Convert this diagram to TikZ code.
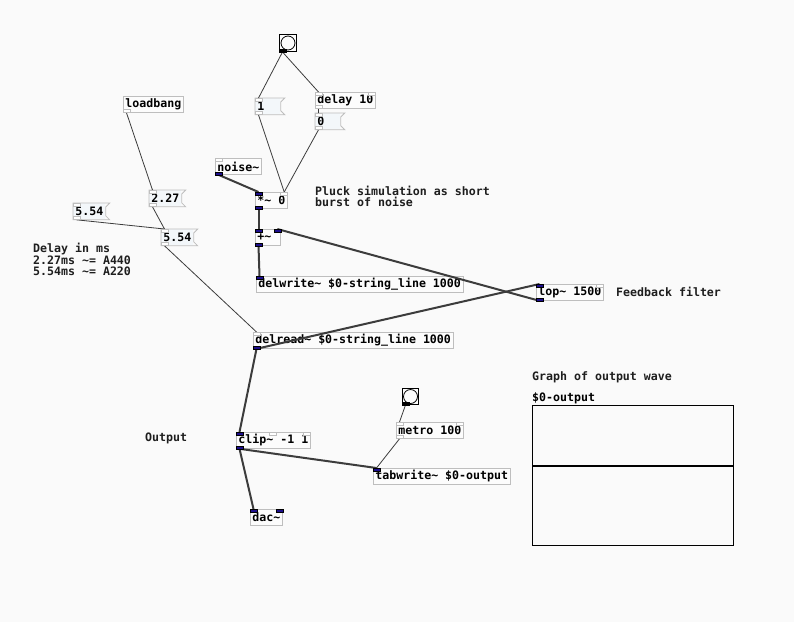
\documentclass[tikz,border=0pt]{standalone}
\usepackage{fontspec}
\setmonofont{DejaVu Sans Mono}
\usepackage{tikz}
\usetikzlibrary{positioning, calc}
\definecolor{pdbg}{RGB}{250,250,250}
\definecolor{boxedge}{RGB}{190,190,190}
\definecolor{msgfill}{RGB}{243,247,250}
\definecolor{objfill}{RGB}{252,252,252}
\definecolor{sigblue}{RGB}{28,14,140}
\definecolor{wire}{RGB}{60,60,60}
\definecolor{pdtext}{RGB}{30,30,30}

\newcommand{\pdfont}{\ttfamily\bfseries\fontsize{11.6}{11}\selectfont}
\newcommand{\pdtilde}{\textasciitilde}
% iolets: style, node
\newcommand{\pdin}[2]{\draw[#1] (#2.north west) rectangle ++(7,3);}
\newcommand{\pdinr}[2]{\draw[#1] (#2.north east) ++(-7,0) rectangle ++(7,3);}
\newcommand{\pdout}[2]{\draw[#1] (#2.south west) ++(0,-3) rectangle ++(7,3);}

\begin{document}
\begin{tikzpicture}[
    x=1pt, y=-1pt,
    obj/.style={rectangle, draw=boxedge, fill=objfill, line width=0.8pt, anchor=north west, minimum height=16pt, inner xsep=2pt, inner ysep=0pt, font=\pdfont, text=black},
    narrow/.style={text width=21pt, align=left},
    msg/.style={obj, draw=none, fill=msgfill},
    bang/.style={rectangle, draw=black, line width=1pt, fill=objfill, minimum size=17pt, inner sep=0pt, anchor=north west,
        path picture={\draw[black, line width=0.8pt] (path picture bounding box.center) circle (7pt);}},
    comment/.style={inner sep=0pt, font=\pdfont, text=pdtext, anchor=west, align=left},
    ctl/.style={draw=wire, line width=0.8pt},
    sig/.style={draw=wire, line width=2pt},
    ctlio/.style={draw=boxedge, fill=white, line width=0.8pt},
    sigio/.style={fill=sigblue},
    bangio/.style={fill=black}
]
\fill[pdbg] (0,0) rectangle (794,622);
\useasboundingbox (0,0) rectangle (794,622);

% pluck part
\node[bang] (bangA) at (279,34) {};
\node[msg, narrow] (one) at (255,98) {1};
\node[obj] (delay) at (315,92) {delay 10};
\node[msg, narrow] (zero) at (315,113) {0};
\node[obj] (noise) at (215,158) {noise\pdtilde};
\node[obj] (times) at (255,192) {*\pdtilde{} 0};
\node[obj, narrow] (plus) at (255,229) {+\pdtilde};
\node[obj] (delwrite) at (256,276) {delwrite\pdtilde{} \$0-string\_line 1000};
\node[obj] (lop) at (536,284) {lop\pdtilde{} 1500};
\node[obj] (delread) at (253,332) {delread\pdtilde{} \$0-string\_line 1000};

% delay time
\node[obj] (loadbang) at (123,96) {loadbang};
\node[msg] (twoseven) at (149,190) {2.27};
\node[msg] (fivel) at (73,203) {5.54};
\node[msg] (fiver) at (161,229) {5.54};

% output
\node[obj] (clip) at (236,432) {clip\pdtilde{} -1 1};
\node[bang, minimum size=16pt] (bangB) at (402,388) {};
\node[obj] (metro) at (396,422) {metro 100};
\node[obj] (tabwrite) at (373,468) {tabwrite\pdtilde{} \$0-output};
\node[obj] (dac) at (250,509) {dac\pdtilde};

% comments
\node[comment] (dlynote) at (33,259) {Delay in ms\\2.27ms \pdtilde= A440\\5.54ms \pdtilde= A220};
\node[comment] (plucknote) at (315,196.5) {Pluck simulation as short\\burst of noise};
\node[comment] (outnote) at (145,438) {Output};
\node[comment] (fbnote) at (616,292) {Feedback filter};
\node[comment] (graphnote) at (532,377) {Graph of output wave};
\node[comment, text=black] (arrname) at (532,398) {\$0-output};

% graph
\node[draw=black, line width=1pt, minimum width=201pt, minimum height=140pt, inner sep=0pt, anchor=north west] (graph) at (532,405) {};
\path (graph.north west) ++(0,61) coordinate (zline);
\draw[black, line width=2pt] (zline) -- (zline -| graph.east);

% message box outlines
\foreach \m in {one,zero,twoseven,fivel,fiver} {
    \draw[boxedge, line width=0.8pt] (\m.north west) -- ([xshift=4pt]\m.north east) -- ([yshift=-4pt]\m.north east)
        -- ([yshift=4pt]\m.south east) -- ([xshift=4pt]\m.south east) -- (\m.south west) -- cycle;
}

% control wires
\draw[ctl] ([xshift=3.5pt]bangA.south west) -- ([xshift=3.5pt]one.north west);
\draw[ctl] ([xshift=3.5pt]bangA.south west) -- ([xshift=3.5pt]delay.north west);
\draw[ctl] ([xshift=3.5pt]delay.south west) -- ([xshift=3.5pt]zero.north west);
\draw[ctl] ([xshift=3.5pt]one.south west) -- ([xshift=-3.5pt]times.north east);
\draw[ctl] ([xshift=3.5pt]zero.south west) -- ([xshift=-3.5pt]times.north east);
\draw[ctl] ([xshift=3.5pt]loadbang.south west) -- ([xshift=3.5pt]twoseven.north west);
\draw[ctl] ([xshift=3.5pt]twoseven.south west) -- ([xshift=3.5pt]fiver.north west);
\draw[ctl] ([xshift=3.5pt]fivel.south west) -- ([xshift=3.5pt]fiver.north west);
\draw[ctl] ([xshift=3.5pt]fiver.south west) -- ([xshift=3.5pt]delread.north west);
\draw[ctl] ([xshift=3.5pt]bangB.south west) -- ([xshift=3.5pt]metro.north west);
\draw[ctl] ([xshift=3.5pt]metro.south west) -- ([xshift=3.5pt]tabwrite.north west);

% signal wires
\draw[sig] ([xshift=3.5pt]noise.south west) -- ([xshift=3.5pt]times.north west);
\draw[sig] ([xshift=3.5pt]times.south west) -- ([xshift=3.5pt]plus.north west);
\draw[sig] ([xshift=3.5pt]plus.south west) -- ([xshift=3.5pt]delwrite.north west);
\draw[sig] ([xshift=3.5pt]lop.south west) -- ([xshift=-3.5pt]plus.north east);
\draw[sig] ([xshift=3.5pt]delread.south west) -- ([xshift=3.5pt]lop.north west);
\draw[sig] ([xshift=3.5pt]delread.south west) -- ([xshift=3.5pt]clip.north west);
\draw[sig] ([xshift=3.5pt]clip.south west) -- ([xshift=3.5pt]dac.north west);
\draw[sig] ([xshift=3.5pt]clip.south west) -- ([xshift=3.5pt]tabwrite.north west);

% iolets
\foreach \n in {one,zero,delay,noise,delread,twoseven,fivel,fiver,metro} {\pdin{ctlio}{\n}}
\foreach \n in {delay,times,lop,metro,clip} {\pdinr{ctlio}{\n}}
\draw[ctlio] ([xshift=-3.5pt]clip.north) rectangle ++(7,3);
\foreach \n in {one,zero,delay,loadbang,twoseven,fivel,fiver,metro} {\pdout{ctlio}{\n}}
\foreach \n in {times,plus,delwrite,lop,clip,tabwrite,dac} {\pdin{sigio}{\n}}
\foreach \n in {plus,dac} {\pdinr{sigio}{\n}}
\foreach \n in {noise,times,plus,lop,delread,clip} {\pdout{sigio}{\n}}
\foreach \n in {bangA,bangB} {\pdout{bangio}{\n}}

\end{tikzpicture}
\end{document}
